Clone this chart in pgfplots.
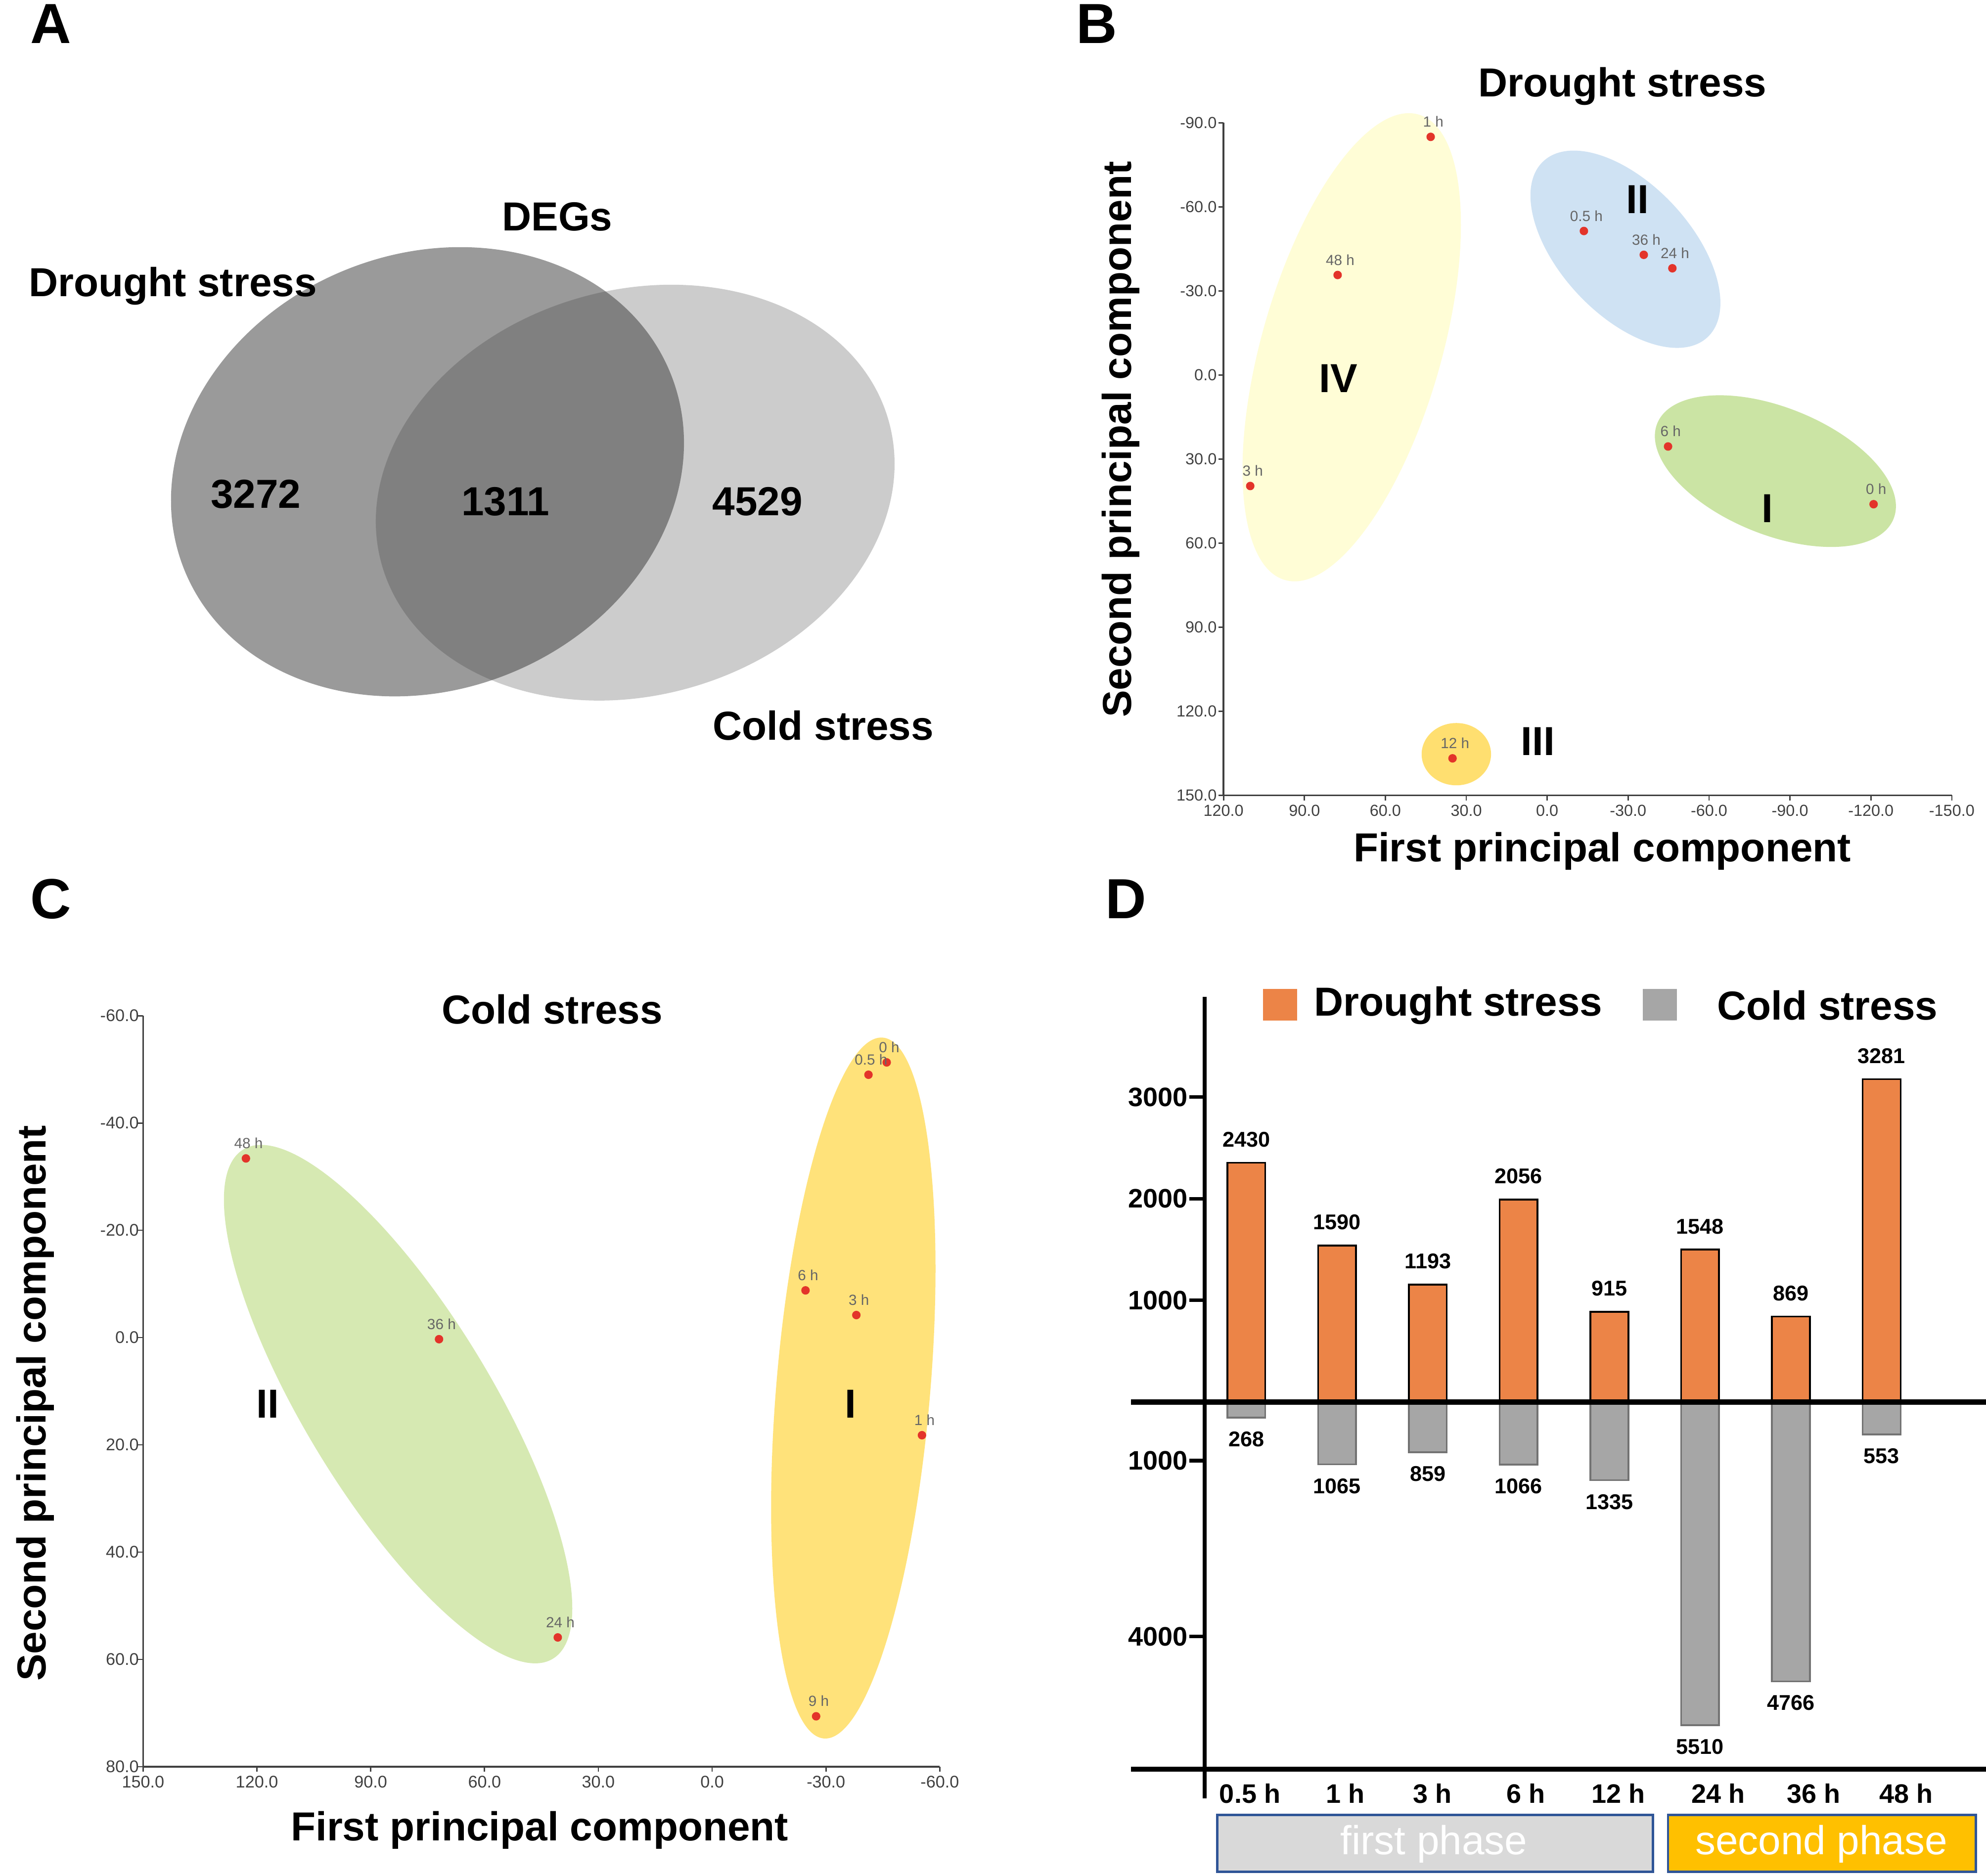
\documentclass[border=0pt]{standalone}
\usepackage{fontspec}
\setmainfont{Liberation Sans}
\usepackage{pgfplots}
\pgfplotsset{compat=1.18}

\definecolor{vennDark}{HTML}{383838}
\definecolor{vennLight}{HTML}{CCCCCC}
\definecolor{ellYel}{HTML}{FFFDD6}
\definecolor{ellBlue}{HTML}{CFE2F3}
\definecolor{ellGreen}{HTML}{CBE4A4}
\definecolor{ellGold}{HTML}{FFDF70}
\definecolor{ellGreenC}{HTML}{D6E9B2}
\definecolor{ellGoldC}{HTML}{FFE27A}
\definecolor{ptRed}{HTML}{E3342A}
\definecolor{barOrange}{HTML}{EC8447}
\definecolor{barGray}{HTML}{A6A6A6}
\definecolor{boxBlue}{HTML}{2F5597}
\definecolor{phaseGold}{HTML}{FFC000}
\definecolor{phaseGray}{HTML}{D9D9D9}

\newcommand{\lab}{\fontsize{9.1}{11}\selectfont\bfseries}
\newcommand{\panel}{\fontsize{12.7}{14}\selectfont\bfseries}

\pgfplotsset{
  pca/.style={
    scale only axis, clip=false,
    axis x line*=bottom, axis y line*=left,
    axis line style={black!75, line width=0.4pt},
    tick align=outside, major tick length=0.04cm,
    tick style={black!75, line width=0.3pt},
    tick label style={font=\fontsize{3.6}{4}\selectfont, text=black!75},
    xticklabel style={yshift=0.09cm},
    yticklabel style={xshift=0.11cm},
    /pgf/number format/fixed, /pgf/number format/fixed zerofill,
    /pgf/number format/precision=1, /pgf/number format/assume math mode=true,
    x dir=reverse, y dir=reverse,
  },
  pts/.style={
    only marks, mark=*, mark size=0.75pt,
    mark options={fill=ptRed, draw=ptRed},
    nodes near coords, point meta=explicit symbolic,
    nodes near coords align={center},
    every node near coord/.append style={font=\fontsize{3.3}{4}\selectfont,
      text=black!60, yshift=0.12cm, xshift=0.02cm},
  },
  barsD/.style={
    scale only axis, clip=false,
    xmin=-0.46, xmax=8.15,
    axis lines=left, axis line style={draw=none,-},
    tick align=outside, major tick length=0.12cm,
    ytick style={black, line width=0.8pt},
    yticklabel style={font=\fontsize{6}{7}\selectfont\bfseries, xshift=0.11cm},
    ybar, bar width=0.30cm, bar shift=0pt,
    nodes near coords, point meta=explicit symbolic,
    every node near coord/.append style={font=\fontsize{4.8}{5.5}\selectfont\bfseries},
  },
}

\begin{document}
\begin{tikzpicture}
\useasboundingbox (0,0) rectangle (15.68,-14.81);

% ---------- A: Venn ----------
\node[inner sep=0] at (0.40,-0.19) {\panel A};
\fill[vennLight, rotate around={16:(5.015,-3.89)}] (5.015,-3.89) ellipse (2.08 and 1.60);
\fill[vennDark, opacity=0.51, rotate around={22:(3.375,-3.725)}] (3.375,-3.725) ellipse (2.07 and 1.72);
\node[inner sep=0] at (4.40,-1.71) {\lab DEGs};
\node[inner sep=0, anchor=west] at (0.22,-2.26) {\lab Drought stress};
\node[inner sep=0] at (2.02,-3.90) {\lab 3272};
\node[inner sep=0] at (3.99,-3.96) {\lab 1311};
\node[inner sep=0] at (5.98,-3.96) {\lab 4529};
\node[inner sep=0] at (6.50,-5.73) {\lab Cold stress};

% ---------- B: drought PCA ----------
\node[inner sep=0] at (8.66,-0.19) {\panel B};
\fill[ellYel, rotate around={74:(10.672,-2.742)}] (10.672,-2.742) ellipse (1.912 and 0.710);
\fill[ellBlue, rotate around={-47:(12.833,-1.968)}] (12.833,-1.968) ellipse (0.950 and 0.516);
\fill[ellGreen, rotate around={-22:(14.017,-3.720)}] (14.017,-3.720) ellipse (1.006 and 0.502);
\fill[ellGold] (11.498,-5.955) ellipse (0.274 and 0.246);
\node[inner sep=0] at (10.565,-2.990) {\lab IV};
\node[inner sep=0] at (12.929,-1.574) {\lab II};
\node[inner sep=0] at (13.953,-4.014) {\lab I};
\node[inner sep=0] at (12.141,-5.853) {\lab III};

\begin{axis}[pca,
  at={(9.66cm,-6.28cm)}, anchor=south west,
  width=5.75cm, height=5.31cm,
  xmin=-150, xmax=120, ymin=-90, ymax=150,
  xtick={-150,-120,...,120}, ytick={-90,-60,...,150},
]
\addplot[pts] coordinates {
  (43.2,-85.0) [1 h]
  (77.7,-35.7) [48 h]
  (110.1,39.6) [3 h]
  (-13.6,-51.4) [0.5 h]
  (-35.8,-42.9) [36 h]
  (-46.4,-38.1) [24 h]
  (-44.8,25.5) [6 h]
  (-121.0,46.1) [0 h]
  (35.1,136.8) [12 h]
};
\end{axis}
\node[inner sep=0] at (12.81,-0.68) {\lab Drought stress};
\node[inner sep=0] at (12.65,-6.72) {\lab First principal component};
\node[inner sep=0, rotate=90] at (8.85,-3.47) {\lab Second principal component};

% ---------- C: cold PCA ----------
\node[inner sep=0] at (0.40,-7.10) {\panel C};
\fill[ellGreenC, rotate around={-58.7:(3.143,-11.087)}] (3.143,-11.087) ellipse (2.353 and 0.737);
\fill[ellGoldC, rotate around={85.2:(6.737,-10.960)}] (6.737,-10.960) ellipse (2.777 and 0.608);
\node[inner sep=0] at (2.115,-11.087) {\lab II};
\node[inner sep=0] at (6.713,-11.087) {\lab I};

\begin{axis}[pca,
  at={(1.13cm,-13.95cm)}, anchor=south west,
  width=6.29cm, height=5.93cm,
  xmin=-60, xmax=150, ymin=-60, ymax=80,
  xtick={-60,-30,...,150}, ytick={-60,-40,...,80},
  tick label style={font=\fontsize{3.8}{4}\selectfont},
  yticklabel style={xshift=0.02cm},
]
\addplot[pts] coordinates {
  (122.9,-33.4) [48 h]
  (72.0,0.3) [36 h]
  (40.7,55.9) [24 h]
  (-46.0,-51.3) [0 h]
  (-41.2,-49.0) [0.5 h]
  (-24.6,-8.8) [6 h]
  (-38.0,-4.2) [3 h]
  (-55.3,18.2) [1 h]
  (-27.4,70.6) [9 h]
};
\end{axis}
\node[inner sep=0] at (4.36,-7.97) {\lab Cold stress};
\node[inner sep=0] at (4.26,-14.45) {\lab First principal component};
\node[inner sep=0, rotate=90] at (0.28,-11.08) {\lab Second principal component};

% ---------- D: DEG counts ----------
\node[inner sep=0] at (8.89,-7.10) {\panel D};

\begin{axis}[barsD,
  at={(9.51cm,-11.07cm)}, anchor=south west,
  width=6.17cm, height=3.20cm,
  ymin=0, ymax=4118,
  xtick=\empty,
  ytick={1033,2066,3099}, yticklabels={1000,2000,3000},
]
\addplot[fill=barOrange, draw=black, line width=0.4pt] coordinates {
  (0,2430) [2430] (1,1590) [1590] (2,1193) [1193] (3,2056) [2056]
  (4,915) [915] (5,1548) [1548] (6,869) [869] (7,3281) [3281]
};
\end{axis}

\begin{axis}[barsD,
  at={(9.51cm,-13.97cm)}, anchor=south west,
  width=6.17cm, height=2.90cm,
  ymin=-6263, ymax=0,
  ytick={-1000,-4000}, yticklabels={1000,4000},
  xtick={0.04,1.09,2.05,3.08,4.10,5.20,6.25,7.27},
  xticklabels={0.5 h,1 h,3 h,6 h,12 h,24 h,36 h,48 h},
  xtick style={draw=none},
  xticklabel style={font=\fontsize{6}{7}\selectfont\bfseries, yshift=0.13cm},
  nodes near coords align={center},
  every node near coord/.append style={yshift=-0.17cm},
]
\addplot[fill=barGray, draw=black!55, line width=0.4pt] coordinates {
  (0,-268) [268] (1,-1065) [1065] (2,-859) [859] (3,-1066) [1066]
  (4,-1335) [1335] (5,-5510) [5510] (6,-4766) [4766] (7,-553) [553]
};
\end{axis}

\draw[line width=0.9pt] (9.51,-7.87) -- (9.51,-14.20);
\draw[line width=1.2pt] (8.93,-11.07) -- (15.68,-11.07);
\draw[line width=1.1pt] (8.93,-13.97) -- (15.68,-13.97);

\fill[barOrange] (9.97,-7.81) rectangle (10.24,-8.06);
\node[inner sep=0, anchor=west] at (10.37,-7.94) {\lab Drought stress};
\fill[barGray] (12.97,-7.81) rectangle (13.24,-8.06);
\node[inner sep=0, anchor=west] at (13.55,-7.94) {\lab Cold stress};

\draw[boxBlue, line width=0.5pt, fill=phaseGray] (9.61,-14.33) rectangle (13.05,-14.78);
\node[inner sep=0, text=white] at (11.32,-14.56) {\fontsize{9.1}{11}\selectfont first phase};
\draw[boxBlue, line width=0.5pt, fill=phaseGold] (13.17,-14.33) rectangle (15.60,-14.78);
\node[inner sep=0, text=white] at (14.38,-14.56) {\fontsize{9.1}{11}\selectfont second phase};
\end{tikzpicture}
\end{document}
